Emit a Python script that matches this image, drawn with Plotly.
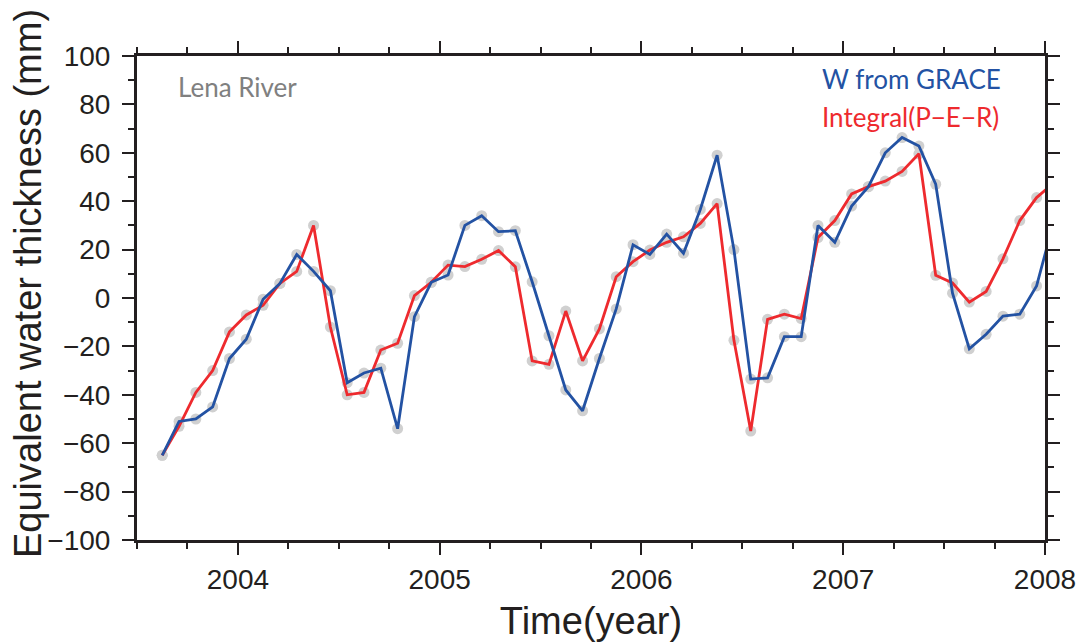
import plotly.graph_objects as go

# Monthly series, Aug 2003 - Jan 2008
months = [
    "2003-08", "2003-09", "2003-10", "2003-11", "2003-12",
    "2004-01", "2004-02", "2004-03", "2004-04", "2004-05", "2004-06",
    "2004-07", "2004-08", "2004-09", "2004-10", "2004-11", "2004-12",
    "2005-01", "2005-02", "2005-03", "2005-04", "2005-05", "2005-06",
    "2005-07", "2005-08", "2005-09", "2005-10", "2005-11", "2005-12",
    "2006-01", "2006-02", "2006-03", "2006-04", "2006-05", "2006-06",
    "2006-07", "2006-08", "2006-09", "2006-10", "2006-11", "2006-12",
    "2007-01", "2007-02", "2007-03", "2007-04", "2007-05", "2007-06",
    "2007-07", "2007-08", "2007-09", "2007-10", "2007-11", "2007-12",
    "2008-01",
]

# Equivalent water thickness from GRACE (mm)
w_grace = [
    -65, -51, -50, -45, -25,
    -17, -0.5, 6, 18, 11, 3,
    -35, -31, -29, -54, -7.7, 6.5,
    9.5, 30, 34, 27.4, 27.8, 6.7,
    -15.6, -38, -46.6, -25, -4.5, 22,
    18, 26.4, 18.5, 36.6, 59, 20,
    -33.5, -33, -16, -16, 30, 23,
    38, 46, 60, 66.3, 62.8, 47,
    2, -21, -15, -7.5, -6.7, 5,
    31,
]

# Accumulated precipitation minus evaporation minus runoff (mm)
integral_per = [
    -65, -53, -39, -30, -14,
    -7, -3, 6, 11, 30, -12,
    -40, -39, -21.5, -18.7, 1, 6.5,
    13.6, 13, 16, 19.6, 12.9, -26,
    -27.4, -5.4, -26, -12.8, 8.8, 15,
    19.8, 23, 25.3, 30.8, 39, -17.5,
    -55, -8.8, -6.7, -8.5, 25, 32,
    43, 46, 48.3, 52.3, 59.6, 9.4,
    6.2, -1.7, 2.7, 16.2, 32, 41.5,
    47.5,
]

year_ticks = [2004, 2005, 2006, 2007, 2008]


def decimal_year(ym):
    y, m = ym.split("-")
    return int(y) + (int(m) - 0.5) / 12.0


t = [decimal_year(m) for m in months]

BLUE = "#2352a3"
RED = "#ee2a2e"
DOT = "#d0d0d0"
INK = "#231f20"
AXIS_FONT = "Liberation Sans, Arial"

fig = go.Figure()

# grey sample dots sit underneath the lines
for vals in (integral_per, w_grace):
    fig.add_trace(go.Scatter(
        x=t, y=vals, mode="markers",
        marker=dict(size=11, color=DOT, line=dict(width=0)),
        hoverinfo="skip", showlegend=False,
    ))

fig.add_trace(go.Scatter(
    x=t, y=integral_per, mode="lines", name="Integral(P−E−R)",
    line=dict(color=RED, width=2.8), showlegend=False,
))
fig.add_trace(go.Scatter(
    x=t, y=w_grace, mode="lines", name="W from GRACE",
    line=dict(color=BLUE, width=2.8), showlegend=False,
))

axis_common = dict(
    showline=True, linecolor=INK, linewidth=3, mirror="allticks",
    ticks="outside", tickcolor=INK, tickwidth=1.5,
    showgrid=False, zeroline=False, automargin=False,
    tickfont=dict(family=AXIS_FONT, size=28, color=INK),
)

fig.update_xaxes(
    range=[2003.5, 2008],
    tickvals=year_ticks, ticktext=[str(v) for v in year_ticks],
    ticklen=12,
    minor=dict(dtick=0.25, tick0=2003.5, ticks="outside", ticklen=6,
               tickcolor=INK, tickwidth=1.5, showgrid=False),
    title=dict(text="Time(year)", standoff=14,
               font=dict(family=AXIS_FONT, size=38, color=INK)),
    **axis_common,
)
fig.update_yaxes(
    range=[-100, 100], dtick=20, tick0=0, ticklen=12, ticklabelstandoff=6,
    minor=dict(dtick=10, ticks="outside", ticklen=6,
               tickcolor=INK, tickwidth=1.5, showgrid=False),
    **axis_common,
)

# vertical axis caption
fig.add_annotation(
    x=-0.12, y=0.529, xref="paper", yref="paper",
    xanchor="center", yanchor="middle", textangle=-90,
    text="Equivalent water thickness (mm)", showarrow=False,
    font=dict(family=AXIS_FONT, size=38, color=INK),
)

label_font = "Lato, Noto Sans, sans-serif"
fig.add_annotation(
    x=0.043, y=0.935, xref="paper", yref="paper", xanchor="left", yanchor="middle",
    text="Lena River", showarrow=False,
    font=dict(family=label_font, size=26, color="#808080"),
)
fig.add_annotation(
    x=0.752, y=0.952, xref="paper", yref="paper", xanchor="left", yanchor="middle",
    text="W from GRACE", showarrow=False,
    font=dict(family=label_font, size=26, color=BLUE),
)
fig.add_annotation(
    x=0.752, y=0.875, xref="paper", yref="paper", xanchor="left", yanchor="middle",
    text="Integral(P−E−R)", showarrow=False,
    font=dict(family=label_font, size=26, color=RED),
)

fig.update_layout(
    width=1083, height=644,
    margin=dict(l=137, r=38, t=56, b=104),
    paper_bgcolor="white", plot_bgcolor="white",
    showlegend=False,
)

fig.write_html("out.html")
